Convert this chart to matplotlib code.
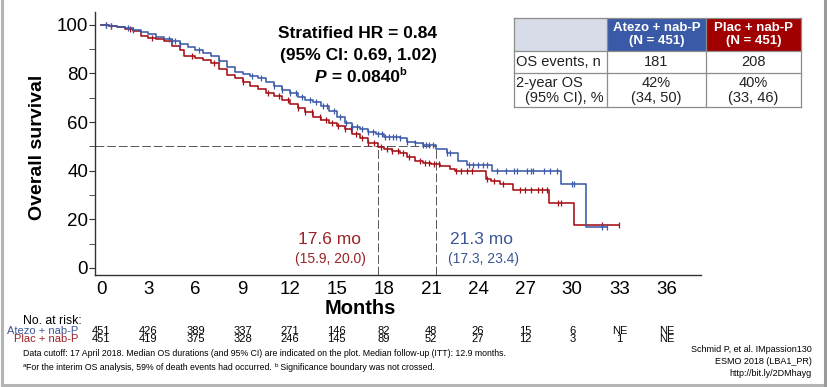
import matplotlib
matplotlib.use("Agg")
import matplotlib.pyplot as plt
import numpy as np
from matplotlib.patches import Rectangle
from matplotlib.lines import Line2D

plt.rcParams['font.family'] = ['Liberation Sans', 'DejaVu Sans']

# ---------------- data ----------------
atezo_t = [0, 0.5, 1.0, 1.5, 2.0, 2.5, 3.0, 3.5, 4.0, 4.5, 5.0, 5.5, 6.0, 6.5, 7.0, 7.5,
           8.0, 8.5, 9.0, 9.5, 10.0, 10.5, 11.0, 11.5, 12.0, 12.5, 13.0, 13.5, 14.0, 14.5,
           15.0, 15.5, 16.0, 16.5, 17.0, 17.5, 18.0, 18.5, 19.0, 19.5, 20.0, 20.5, 21.3,
           22.0, 22.7, 23.3, 24.9, 29.3, 30.9, 32.2]
atezo_s = [100, 99.6, 99.1, 98.6, 98.0, 97.2, 96.2, 95.2, 94.3, 93.3, 92.0, 90.8, 89.7, 88.4,
           87.0, 85.0, 82.6, 80.8, 79.8, 79.0, 78.0, 76.7, 75.0, 73.3, 72.0, 70.5, 69.2, 68.2,
           66.5, 64.5, 62.0, 59.8, 58.0, 57.0, 56.0, 55.0, 54.0, 53.8, 53.3, 52.0, 51.5, 50.6,
           48.8, 47.2, 43.8, 42.4, 40.0, 34.5, 16.8, 16.8]
atezo_cens = [0.3, 0.6, 1.7, 2.0, 4.3, 4.5, 4.7, 5.0, 6.2, 7.5, 9.6, 10.2, 11.0, 11.5, 12.0,
              12.4, 12.8, 13.3, 13.7, 14.1, 14.4, 14.8, 15.2, 15.6, 16.0, 16.3, 16.6, 17.0,
              17.3, 17.6, 17.9, 18.1, 18.3, 18.6, 18.8, 19.0, 19.5, 20.0, 20.5, 20.7, 20.9,
              21.1, 22.0, 22.2, 23.4, 23.7, 24.0, 24.3, 24.6, 25.2, 25.8, 26.3, 26.5, 27.1,
              27.4, 27.5, 28.2, 28.6, 29.0, 30.0, 30.1, 31.9, 32.2]

plac_t = [0, 0.5, 1.0, 1.5, 2.0, 2.5, 3.0, 3.5, 4.0, 4.5, 5.0, 5.3, 6.0, 6.5, 7.0, 7.5, 8.0,
          8.5, 9.0, 9.5, 10.0, 10.5, 11.0, 11.5, 12.0, 12.5, 13.0, 13.5, 14.0, 14.5, 15.0,
          15.5, 16.0, 16.5, 17.0, 17.6, 18.0, 18.5, 19.0, 19.5, 20.0, 20.5, 21.0, 21.6, 22.2,
          22.5, 24.5, 24.8, 25.4, 26.2, 28.5, 30.1, 33.0]
plac_s = [100, 99.6, 99.1, 98.5, 97.3, 95.5, 94.6, 94.0, 93.2, 91.5, 89.5, 87.0, 86.2, 85.5,
          84.2, 82.0, 79.2, 78.0, 76.6, 74.9, 73.5, 71.9, 70.8, 69.3, 67.6, 65.8, 64.0, 62.3,
          60.8, 59.5, 58.3, 57.0, 55.2, 53.5, 51.6, 49.8, 48.8, 48.0, 47.2, 45.5, 43.8, 43.3,
          42.8, 42.0, 40.6, 39.7, 36.8, 35.6, 34.6, 32.1, 26.7, 17.5, 17.5]
plac_cens = [0.3, 0.6, 1.8, 3.2, 5.8, 7.2, 9.0, 10.6, 11.3, 11.9, 12.5, 13.0, 13.4, 13.9,
             14.3, 14.7, 15.1, 15.5, 15.9, 16.2, 16.6, 17.0, 17.4, 17.8, 18.2, 18.5, 18.9,
             19.2, 19.6, 20.3, 20.6, 20.9, 21.2, 21.5, 22.6, 22.9, 23.3, 23.6, 24.6, 25.0,
             25.6, 26.7, 27.0, 27.4, 27.8, 28.1, 28.4, 29.1, 29.3, 31.9, 33.0]

risk_months = [0, 3, 6, 9, 12, 15, 18, 21, 24, 27, 30, 33, 36]
risk_atezo = ['451', '426', '389', '337', '271', '146', '82', '48', '26', '15', '6', 'NE', 'NE']
risk_plac = ['451', '419', '375', '328', '246', '145', '89', '52', '27', '12', '3', '1', 'NE']

median_atezo = 21.3
median_plac = 17.6

BLUE = '#3c5aa6'
RED = '#a50f15'
BLUE_TXT = '#3b5596'
RED_TXT = '#9b2226'

W, H = 827, 387
fig = plt.figure(figsize=(W / 100, H / 100), dpi=100)

def fx(px):
    return px / W

def fy(py):
    return 1 - py / H

# frame
fig.add_artist(Line2D([fx(2), fx(2)], [fy(0), fy(385)], color='#b4b4b4', lw=2.2, transform=fig.transFigure))
fig.add_artist(Line2D([fx(2), fx(825)], [fy(385), fy(385)], color='#b4b4b4', lw=2.2, transform=fig.transFigure))
fig.add_artist(Line2D([fx(825), fx(825)], [fy(0), fy(385)], color='#9a9a9a', lw=2.2, transform=fig.transFigure))

ax = fig.add_axes([fx(95), fy(275), fx(701) - fx(95), fy(12) - fy(275)])
ax.set_xlim(-0.4, 38.2)
ax.set_ylim(-2.9, 105.3)

for sp in ['top', 'right']:
    ax.spines[sp].set_visible(False)
ax.spines['left'].set_color('#333333')
ax.spines['bottom'].set_color('#333333')
ax.spines['left'].set_linewidth(1.0)
ax.spines['bottom'].set_linewidth(1.0)

ax.set_xticks(risk_months)
ax.set_yticks([0, 20, 40, 60, 80, 100])
ax.set_yticks([10, 30, 50, 70, 90], minor=True)
ax.tick_params(axis='x', length=0, labelsize=13.5, pad=4)
ax.tick_params(axis='y', which='both', length=4, direction='out', labelsize=13.5, pad=1, color='#333333')

# median reference lines
dash = dict(color='#555555', lw=0.7, ls=(0, (9, 3)))
ax.plot([-0.4, median_atezo], [50, 50], **dash)
ax.plot([median_plac, median_plac], [-2.9, 50], **dash)
ax.plot([median_atezo, median_atezo], [-2.9, 50], **dash)

def step_at(ts, ss, x):
    idx = np.searchsorted(ts, x, side='right') - 1
    return np.asarray(ss)[np.clip(idx, 0, len(ss) - 1)]

for t, s, c, col in [(plac_t, plac_s, plac_cens, RED), (atezo_t, atezo_s, atezo_cens, BLUE)]:
    ax.step(t, s, where='post', color=col, lw=1.15)
    cs = step_at(np.array(t), s, np.array(c))
    ax.plot(c, cs, ls='none', marker='|', ms=5, mew=0.9, color=col)

# axis labels
fig.text(fx(360), fy(309), 'Months', ha='center', va='center', fontsize=14.5, fontweight='bold')
fig.text(fx(38), fy(147), 'Overall survival', ha='center', va='center', fontsize=14,
         fontweight='bold', rotation=90)

# HR text
fig.text(fx(358), fy(38), 'Stratified HR = 0.84', ha='center', va='baseline', fontsize=12.5, fontweight='bold')
fig.text(fx(358), fy(60), '(95% CI: 0.69, 1.02)', ha='center', va='baseline', fontsize=12.5, fontweight='bold')
tp = fig.text(fx(315), fy(82), 'P', ha='left', va='baseline', fontsize=12.5, fontweight='bold', style='italic')
tq = ax.annotate(' = 0.0840', xy=(1, 0), xycoords=tp, ha='left', va='bottom', fontsize=12.5, fontweight='bold')
ax.annotate('b', xy=(1, 0.55), xycoords=tq, ha='left', va='bottom', fontsize=8, fontweight='bold')

# median annotations
fig.text(fx(330), fy(240), '17.6 mo', ha='center', va='center', fontsize=12.5, color=RED_TXT)
fig.text(fx(330), fy(259), '(15.9, 20.0)', ha='center', va='center', fontsize=10, color=RED_TXT)
fig.text(fx(481), fy(240), '21.3 mo', ha='center', va='center', fontsize=12.5, color=BLUE_TXT)
fig.text(fx(484), fy(259), '(17.3, 23.4)', ha='center', va='center', fontsize=10, color=BLUE_TXT)

# table
cols = [514, 607, 706, 801]
rows = [18, 51, 73, 107]
fig.add_artist(Rectangle((fx(cols[0]), fy(rows[1])), fx(cols[1] - cols[0]), fy(rows[0]) - fy(rows[1]),
                         transform=fig.transFigure, facecolor='#d8dce8', edgecolor='none'))
fig.add_artist(Rectangle((fx(cols[1]), fy(rows[1])), fx(cols[2] - cols[1]), fy(rows[0]) - fy(rows[1]),
                         transform=fig.transFigure, facecolor='#3a5aa8', edgecolor='none'))
fig.add_artist(Rectangle((fx(cols[2]), fy(rows[1])), fx(cols[3] - cols[2]), fy(rows[0]) - fy(rows[1]),
                         transform=fig.transFigure, facecolor='#a00000', edgecolor='none'))
gl = dict(color='#8c8c8c', lw=0.9, transform=fig.transFigure)
for r in rows:
    fig.add_artist(Line2D([fx(cols[0]), fx(cols[-1])], [fy(r), fy(r)], **gl))
for c in cols:
    fig.add_artist(Line2D([fx(c), fx(c)], [fy(rows[0]), fy(rows[-1])], **gl))

fig.text(fx(656.5), fy(34.5), 'Atezo + nab-P\n(N = 451)', ha='center', va='center', fontsize=9.5,
         fontweight='bold', color='white', linespacing=1.05)
fig.text(fx(753.5), fy(34.5), 'Plac + nab-P\n(N = 451)', ha='center', va='center', fontsize=9.5,
         fontweight='bold', color='white', linespacing=1.05)
fig.text(fx(516), fy(62), 'OS events, n', ha='left', va='center', fontsize=10.5, color='#222222')
fig.text(fx(656.5), fy(62), '181', ha='center', va='center', fontsize=10.5, color='#222222')
fig.text(fx(753.5), fy(62), '208', ha='center', va='center', fontsize=10.5, color='#222222')
fig.text(fx(516), fy(83), '2-year OS', ha='left', va='center', fontsize=10.5, color='#222222')
fig.text(fx(604), fy(98), '(95% CI), %', ha='right', va='center', fontsize=10.5, color='#222222')
fig.text(fx(656.5), fy(83), '42%', ha='center', va='center', fontsize=10.5, color='#222222')
fig.text(fx(656.5), fy(98), '(34, 50)', ha='center', va='center', fontsize=10.5, color='#222222')
fig.text(fx(753.5), fy(83), '40%', ha='center', va='center', fontsize=10.5, color='#222222')
fig.text(fx(753.5), fy(98), '(33, 46)', ha='center', va='center', fontsize=10.5, color='#222222')

# number at risk
fig.text(fx(23), fy(321), 'No. at risk:', ha='left', va='center', fontsize=8.8)
fig.text(fx(78), fy(330.5), 'Atezo + nab-P', ha='right', va='center', fontsize=8, color=BLUE_TXT)
fig.text(fx(78), fy(339.5), 'Plac + nab-P', ha='right', va='center', fontsize=8, color=RED_TXT)
trans = matplotlib.transforms.blended_transform_factory(ax.transData, fig.transFigure)
for m, a, p in zip(risk_months, risk_atezo, risk_plac):
    fig.text(m, fy(330.5), a, transform=trans, ha='center', va='center', fontsize=8)
    fig.text(m, fy(339.5), p, transform=trans, ha='center', va='center', fontsize=8)

# footnotes
fig.text(fx(23), fy(353), 'Data cutoff: 17 April 2018. Median OS durations (and 95% CI) are indicated on the plot. '
         'Median follow-up (ITT): 12.9 months.', ha='left', va='center', fontsize=6.3)
fa = fig.text(fx(23), fy(367), 'a', ha='left', va='baseline', fontsize=4.5)
fb = ax.annotate('For the interim OS analysis, 59% of death events had occurred. ', xy=(1, -0.9),
                 xycoords=fa, ha='left', va='bottom', fontsize=6.3)
fc = ax.annotate('b', xy=(1, 0.5), xycoords=fb, ha='left', va='bottom', fontsize=4.5)
ax.annotate(' Significance boundary was not crossed.', xy=(1, -0.9), xycoords=fc, ha='left',
            va='bottom', fontsize=6.3)

fig.text(fx(812), fy(350), 'Schmid P, et al. IMpassion130', ha='right', va='center', fontsize=6.5)
fig.text(fx(812), fy(362), 'ESMO 2018 (LBA1_PR)', ha='right', va='center', fontsize=6.5)
fig.text(fx(812), fy(373), 'http://bit.ly/2DMhayg', ha='right', va='center', fontsize=6.5)

fig.savefig('out.png', dpi=100)
